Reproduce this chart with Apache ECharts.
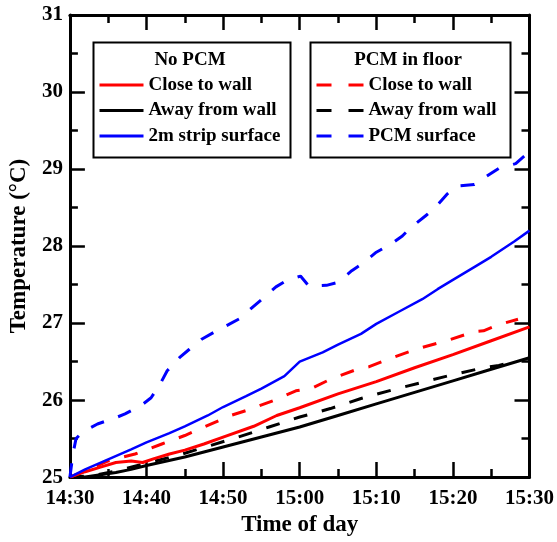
<!DOCTYPE html>
<html>
<head>
<meta charset="utf-8">
<script src="https://cdn.jsdelivr.net/npm/echarts@6/dist/echarts.min.js"></script>
<style>
html,body{margin:0;padding:0;background:#fff;}
#chart{width:557px;height:542px;}
</style>
</head>
<body>
<div id="chart"></div>
<script>
// ---- data (minutes after 14:30, temperature in °C) ----
var timeLabels = ['14:30','14:40','14:50','15:00','15:10','15:20','15:30'];
var yTicks = [25,26,27,28,29,30,31];

var noPcmCloseMin = [0,2,4,6,8,9.5,11,13,15,17.5,20,24,27,30,35,40,45,50,55,60];
var noPcmCloseT   = [25.0,25.07,25.13,25.19,25.21,25.19,25.24,25.3,25.35,25.43,25.52,25.66,25.8,25.9,26.08,26.24,26.42,26.59,26.77,26.95];

var noPcmAwayMin = [0,2,4,6,8,10,15,20,25,30,35,40,45,50,55,60];
var noPcmAwayT   = [25.0,25.0,25.03,25.06,25.1,25.15,25.26,25.39,25.52,25.65,25.8,25.95,26.1,26.25,26.4,26.55];

var stripMin = [0,2,5,8,10,13,15,18,20,23,25,28,30,33,35,38,40,43,46,48,50,53,55,58,60];
var stripT   = [25.0,25.1,25.23,25.36,25.45,25.57,25.66,25.8,25.91,26.05,26.15,26.31,26.5,26.62,26.72,26.86,26.99,27.15,27.31,27.44,27.56,27.74,27.86,28.06,28.2];

var pcmCloseMin = [0,2,3.6,5,8.5,12,15,17.5,21,23.5,27,29.5,31.5,34,37.5,39,41.5,45.5,49.5,52.8,54,56,58.5];
var pcmCloseT   = [25.0,25.08,25.15,25.21,25.3,25.43,25.54,25.65,25.8,25.88,26.01,26.12,26.15,26.27,26.4,26.43,26.53,26.67,26.78,26.89,26.9,26.98,27.05];

var pcmAwayMin = [0,3,6,10,14,18,22,26,30,34,38,42,46,50,54,56,58.5];
var pcmAwayT   = [25.0,25.02,25.08,25.18,25.28,25.4,25.52,25.65,25.78,25.89,26.02,26.13,26.23,26.33,26.42,26.45,26.52];

var pcmSurfMin = [0,0.4,0.8,1.5,2.5,3.6,5.7,7.2,9.3,10.6,11.9,12.7,14.3,15.6,17.2,18.8,20.7,22.2,23.9,25.2,26.9,28.4,30.1,31.2,33.5,35,36.8,38.3,40,42,43.4,44.5,46.4,47.7,49.2,50.5,52.8,53.5,54.3,56,58.2,59.7,60];
var pcmSurfT   = [25.0,25.3,25.5,25.57,25.63,25.69,25.76,25.82,25.93,26.03,26.23,26.38,26.55,26.66,26.79,26.88,26.98,27.06,27.21,27.32,27.47,27.56,27.61,27.48,27.49,27.53,27.68,27.78,27.92,28.03,28.13,28.24,28.39,28.5,28.67,28.78,28.8,28.84,28.9,29.01,29.07,29.2,29.27];

var legendTitles = ['No PCM', 'PCM in floor'];
var legendLabels = {
  nc: 'Close to wall', na: 'Away from wall', ns: '2m strip surface',
  pc: 'Close to wall', pa: 'Away from wall', ps: 'PCM surface'
};

function pairs(xs, ys){ return xs.map(function(x,i){ return [x, ys[i]]; }); }

var FONT = 'Liberation Serif';
var dash = [14, 15];

function mkSeries(name, xs, ys, color, width, dashed){
  return {
    name: name, type: 'line', data: pairs(xs, ys),
    symbol: 'none', showSymbol: false, smooth: false, animation: false,
    lineStyle: { color: color, width: width, type: dashed ? dash : 'solid' },
    itemStyle: { color: color }
  };
}

var axisCommon = {
  type: 'value',
  axisLine: { show: true, onZero: false, lineStyle: { color: '#000', width: 3 } },
  axisTick: { show: true, inside: true, length: 15, lineStyle: { color: '#000', width: 2.5 } },
  minorTick: { show: true, splitNumber: 2, length: 8, lineStyle: { color: '#000', width: 2.5 } },
  splitLine: { show: false },
  minorSplitLine: { show: false }
};

function ax(extra){ return Object.assign({}, JSON.parse(JSON.stringify(axisCommon)), extra); }

var legendText = { fontFamily: FONT, fontWeight: 'bold', fontSize: 19, lineHeight: 19, color: '#000' };

var chart = echarts.init(document.getElementById('chart'), null, { renderer: 'canvas' });
chart.setOption({
  animation: false,
  backgroundColor: '#fff',
  grid: { left: 64, right: 26, top: 15, bottom: 60 },
  xAxis: [
    ax({ min: 0, max: 60, interval: 10, position: 'bottom',
      name: 'Time of day', nameLocation: 'middle', nameGap: 31,
      nameTextStyle: { fontFamily: FONT, fontWeight: 'bold', fontSize: 23, color: '#000' },
      axisLabel: { show: true, margin: 11, fontFamily: FONT, fontWeight: 'bold', fontSize: 21, color: '#000',
        formatter: function(v){ return timeLabels[Math.round(v/10)]; } } }),
    ax({ min: 0, max: 60, interval: 10, position: 'top', axisLabel: { show: false } })
  ],
  yAxis: [
    ax({ min: 25, max: 31, interval: 1, position: 'left',
      name: 'Temperature (°C)', nameLocation: 'middle', nameGap: 36,
      nameTextStyle: { fontFamily: FONT, fontWeight: 'bold', fontSize: 23, color: '#000' },
      axisLabel: { show: true, margin: 7, fontFamily: FONT, fontWeight: 'bold', fontSize: 21, color: '#000',
        formatter: function(v){ return yTicks.indexOf(v) >= 0 ? String(v) : ''; } } }),
    ax({ min: 25, max: 31, interval: 1, position: 'right', axisLabel: { show: false } })
  ],
  legend: [
    { show: true, orient: 'vertical', left: 98, top: 75.5, padding: 0,
      itemWidth: 44, itemHeight: 14, itemGap: 6.5,
      itemStyle: { opacity: 0 },
      lineStyle: { width: 3 },
      data: ['nc','na','ns'],
      formatter: function(n){ return legendLabels[n]; },
      textStyle: legendText,
      selectedMode: false },
    { show: true, orient: 'vertical', left: 315, top: 75.5, padding: 0,
      itemWidth: 47, itemHeight: 14, itemGap: 6.5,
      itemStyle: { opacity: 0 },
      lineStyle: { width: 3, type: [15, 17] },
      data: ['pc','pa','ps'],
      formatter: function(n){ return legendLabels[n]; },
      textStyle: legendText,
      selectedMode: false }
  ],
  graphic: [
    { type: 'rect', left: 91, top: 40, z: 100, silent: true,
      shape: { width: 197, height: 115 }, style: { fill: 'none', stroke: '#000', lineWidth: 2 } },
    { type: 'rect', left: 308, top: 40, z: 100, silent: true,
      shape: { width: 200, height: 115 }, style: { fill: 'none', stroke: '#000', lineWidth: 2 } },
    { type: 'text', x: 190, y: 60, z: 100, silent: true,
      style: { text: legendTitles[0], fontFamily: FONT, fontWeight: 'bold', fontSize: 19, fill: '#000', align: 'center', verticalAlign: 'middle' } },
    { type: 'text', x: 408, y: 60, z: 100, silent: true,
      style: { text: legendTitles[1], fontFamily: FONT, fontWeight: 'bold', fontSize: 19, fill: '#000', align: 'center', verticalAlign: 'middle' } }
  ],
  series: [
    mkSeries('na', noPcmAwayMin, noPcmAwayT, '#000000', 3, false),
    mkSeries('pa', pcmAwayMin, pcmAwayT, '#000000', 3, true),
    mkSeries('pc', pcmCloseMin, pcmCloseT, '#ff0000', 3, true),
    mkSeries('nc', noPcmCloseMin, noPcmCloseT, '#ff0000', 3, false),
    mkSeries('ns', stripMin, stripT, '#0000ff', 2.5, false),
    mkSeries('ps', pcmSurfMin, pcmSurfT, '#0000ff', 3, true)
  ]
});
</script>
</body>
</html>
